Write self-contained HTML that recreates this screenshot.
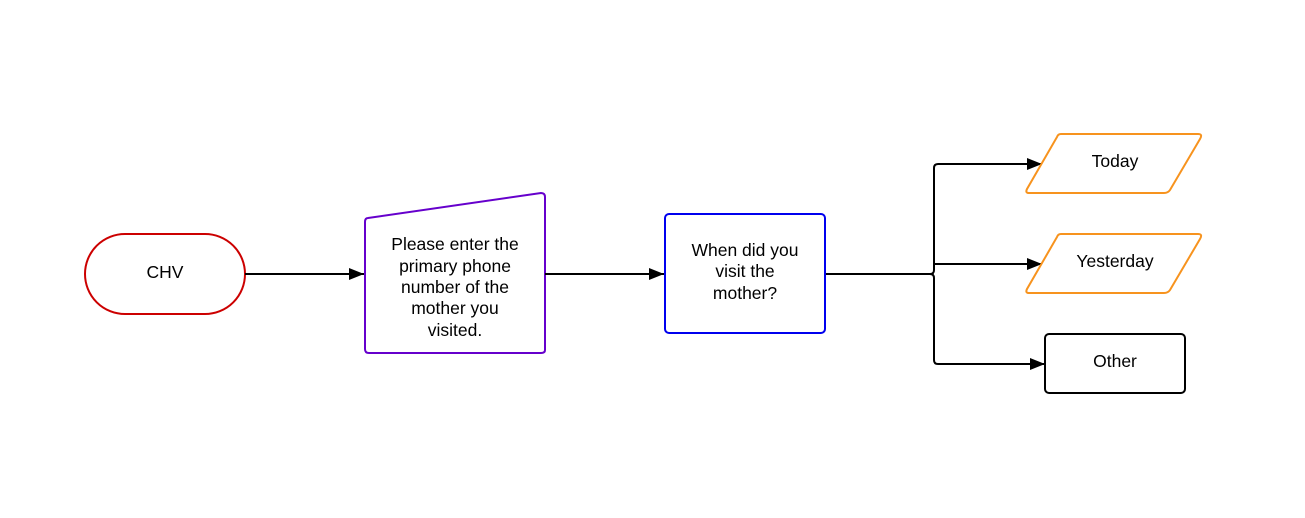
<!DOCTYPE html>
<html><head><style>body{margin:0;background:#fff}svg text{font-family:"Liberation Sans",sans-serif;font-size:17.5px;fill:#000}</style></head>
<body>
<svg width="1305" height="513" viewBox="0 0 1305 513" xmlns="http://www.w3.org/2000/svg">
<defs><marker id="a" markerWidth="15" markerHeight="12" refX="15" refY="6" orient="auto" markerUnits="userSpaceOnUse"><path d="M0,0 L15,6 L0,12 Z" fill="#000"/></marker></defs>
<rect x="85" y="234" width="160" height="80" rx="40" fill="#fff" stroke="#c00" stroke-width="2"/>
<text x="165" y="278" text-anchor="middle" font-size="18.5">CHV</text>
<path d="M368,218 L541,193 Q545,193 545,197 L545,350 Q545,353 541,353 L369,353 Q365,353 365,349 L365,222 Q365,218 368,218 Z" fill="#fff" stroke="#6600cc" stroke-width="2"/>
<text text-anchor="middle"><tspan x="455" y="250">Please enter the</tspan><tspan x="455" y="272">primary phone</tspan><tspan x="455" y="293">number of the</tspan><tspan x="455" y="314">mother you</tspan><tspan x="455" y="336">visited.</tspan></text>
<rect x="665" y="214" width="160" height="119" rx="4" fill="#fff" stroke="#0000ee" stroke-width="2"/>
<text text-anchor="middle"><tspan x="745" y="256">When did you</tspan><tspan x="745" y="277">visit the</tspan><tspan x="745" y="299">mother?</tspan></text>
<g stroke="#000" stroke-width="2" fill="none">
<line x1="245" y1="274" x2="364" y2="274" marker-end="url(#a)"/>
<line x1="545" y1="274" x2="664" y2="274" marker-end="url(#a)"/>
<path d="M826,274 L930,274 Q934,274 934,270 L934,168 Q934,164 938,164 L1042,164" marker-end="url(#a)"/>
<path d="M934,264 L1042,264" marker-end="url(#a)"/>
<path d="M930,274 Q934,274 934,278 L934,360 Q934,364 938,364 L1045,364" marker-end="url(#a)"/>
</g>
<path d="M1061,134 L1198,134 Q1203,134 1200,139 L1170,190 Q1168,193 1164,193 L1029,193 Q1025,193 1027,189 L1057,137 Q1058,134 1061,134 Z" fill="#fff" stroke="#f7931e" stroke-width="2"/>
<text x="1115" y="167" text-anchor="middle">Today</text>
<path d="M1061,234 L1198,234 Q1203,234 1200,239 L1170,290 Q1168,293 1164,293 L1029,293 Q1025,293 1027,289 L1057,237 Q1058,234 1061,234 Z" fill="#fff" stroke="#f7931e" stroke-width="2"/>
<text x="1115" y="267" text-anchor="middle">Yesterday</text>
<rect x="1045" y="334" width="140" height="59" rx="4" fill="#fff" stroke="#000" stroke-width="2"/>
<text x="1115" y="367" text-anchor="middle">Other</text>
</svg>
</body></html>
